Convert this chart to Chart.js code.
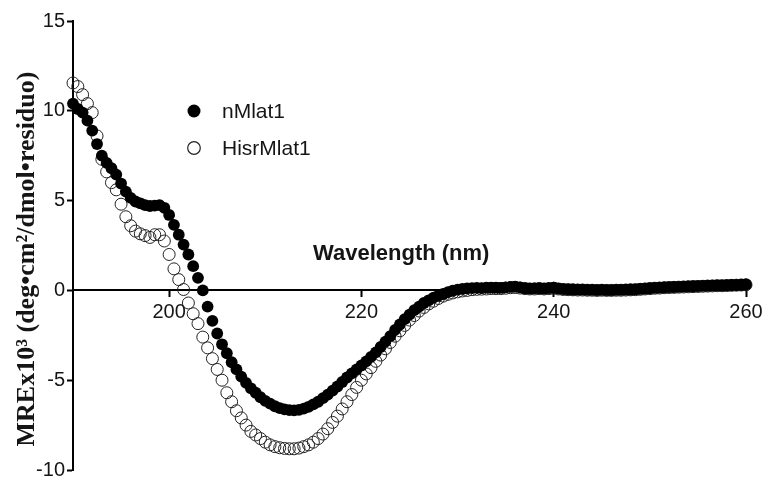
<!DOCTYPE html>
<html>
<head>
<meta charset="utf-8">
<script src="https://cdn.jsdelivr.net/npm/chart.js@4.4.0/dist/chart.umd.min.js"></script>
<style>
  html, body { margin: 0; padding: 0; background: #fff; }
  #wrap { width: 766px; height: 477px; }
</style>
</head>
<body>
<div id="wrap"><canvas id="cdChart" width="766" height="477"></canvas></div>
<script>
// wavelength (nm)
const wavelengths = [
  190, 190.5, 191, 191.5, 192, 192.5, 193, 193.5, 194, 194.5,
  195, 195.5, 196, 196.5, 197, 197.5, 198, 198.5, 199, 199.5,
  200, 200.5, 201, 201.5, 202, 202.5, 203, 203.5, 204, 204.5,
  205, 205.5, 206, 206.5, 207, 207.5, 208, 208.5, 209, 209.5,
  210, 210.5, 211, 211.5, 212, 212.5, 213, 213.5, 214, 214.5,
  215, 215.5, 216, 216.5, 217, 217.5, 218, 218.5, 219, 219.5,
  220, 220.5, 221, 221.5, 222, 222.5, 223, 223.5, 224, 224.5,
  225, 225.5, 226, 226.5, 227, 227.5, 228, 228.5, 229, 229.5,
  230, 230.5, 231, 231.5, 232, 232.5, 233, 233.5, 234, 234.5,
  235, 235.5, 236, 236.5, 237, 237.5, 238, 238.5, 239, 239.5,
  240, 240.5, 241, 241.5, 242, 242.5, 243, 243.5, 244, 244.5,
  245, 245.5, 246, 246.5, 247, 247.5, 248, 248.5, 249, 249.5,
  250, 250.5, 251, 251.5, 252, 252.5, 253, 253.5, 254, 254.5,
  255, 255.5, 256, 256.5, 257, 257.5, 258, 258.5, 259, 259.5,
  260
];

// MRE x10^3
const nMlat1 = [
  10.4, 10.1, 9.9, 9.45, 8.9, 8.15, 7.5, 7.1, 6.8, 6.45,
  5.95, 5.5, 5.15, 4.95, 4.85, 4.75, 4.7, 4.72, 4.75, 4.6,
  4.2, 3.65, 3.1, 2.55, 2.0, 1.35, 0.7, 0.0, -0.9, -1.7,
  -2.4, -3.0, -3.5, -4.0, -4.4, -4.8, -5.15, -5.45, -5.7, -5.95,
  -6.15, -6.3, -6.45, -6.55, -6.62, -6.67, -6.68, -6.65, -6.58, -6.48,
  -6.35, -6.2, -6.0, -5.8, -5.58, -5.35, -5.1, -4.85, -4.62, -4.4,
  -4.18, -3.95, -3.7, -3.45, -3.15, -2.85, -2.55, -2.2, -1.9, -1.6,
  -1.35, -1.1, -0.9, -0.7, -0.55, -0.4, -0.3, -0.2, -0.1, -0.02,
  0.04, 0.08, 0.11, 0.13, 0.14, 0.13, 0.15, 0.16, 0.15, 0.14,
  0.17, 0.2, 0.21, 0.17, 0.12, 0.1, 0.11, 0.12, 0.1, 0.13,
  0.15, 0.1, 0.07, 0.06, 0.05, 0.04, 0.04, 0.03, 0.03, 0.02,
  0.03, 0.02, 0.02, 0.03, 0.03, 0.04, 0.05, 0.06, 0.08, 0.1,
  0.12, 0.14, 0.15, 0.17, 0.18, 0.19, 0.2, 0.21, 0.22, 0.23,
  0.24, 0.25, 0.26, 0.27, 0.28, 0.28, 0.29, 0.3, 0.31, 0.32,
  0.33
];

const HisrMlat1 = [
  11.55, 11.35, 10.9, 10.4, 9.9, 8.6, 7.3, 6.6, 6.0, 5.6,
  4.8, 4.1, 3.6, 3.3, 3.15, 3.05, 2.95, 3.1, 3.1, 2.75,
  2.0, 1.2, 0.6, 0.05, -0.7, -1.3, -1.85, -2.6, -3.2, -3.8,
  -4.4, -5.0, -5.7, -6.2, -6.7, -7.1, -7.5, -7.85, -8.05, -8.25,
  -8.45, -8.6, -8.7, -8.76, -8.8, -8.82, -8.82, -8.78, -8.7, -8.6,
  -8.45, -8.25, -8.0, -7.7, -7.35, -7.0, -6.6, -6.2, -5.8, -5.4,
  -5.0, -4.65, -4.3, -3.95, -3.6, -3.25, -2.9, -2.55, -2.25, -1.95,
  -1.65, -1.4, -1.15, -0.95, -0.75, -0.6, -0.45, -0.32, -0.22, -0.14,
  -0.08, -0.03, 0.0, 0.04, 0.06, 0.07, 0.08, 0.1, 0.1, 0.1,
  0.12, 0.15, 0.16, 0.13, 0.1, 0.08, 0.08, 0.1, 0.08, 0.1,
  0.12, 0.08, 0.05, 0.04, 0.03, 0.02, 0.02, 0.01, 0.01, 0.0,
  0.01, 0.0, 0.0, 0.01, 0.01, 0.02, 0.03, 0.04, 0.06, 0.08,
  0.1, 0.12, 0.13, 0.15, 0.16, 0.17, 0.18, 0.19, 0.2, 0.21,
  0.22, 0.23, 0.24, 0.25, 0.26, 0.26, 0.27, 0.28, 0.29, 0.3,
  0.31
];

const xTicks = [200, 220, 240, 260];
const yTicks = [-10, -5, 0, 5, 10, 15];

const TXT = '#151515';
const tickFont = { family: '"Liberation Sans", Arial, sans-serif', size: 20 };

function toPoints(ys) {
  return wavelengths.map((x, i) => ({ x: x, y: ys[i] }));
}

// titles + legend drawn inside the plot, like the original figure
const annotations = {
  id: 'annotations',
  afterDraw(chart) {
    const ctx = chart.ctx;
    ctx.save();
    ctx.fillStyle = TXT;

    // y title (rotated)
    ctx.save();
    ctx.translate(34, 259);
    ctx.rotate(-Math.PI / 2);
    ctx.font = 'bold 26px "Liberation Serif", "Times New Roman", serif';
    ctx.textAlign = 'center';
    ctx.textBaseline = 'alphabetic';
    ctx.fillText('MREx10\u00B3 (deg\u2022cm\u00B2/dmol\u2022residuo)', 0, 0);
    ctx.restore();

    // x title
    ctx.font = 'bold 22px "Liberation Sans", Arial, sans-serif';
    ctx.textAlign = 'left';
    ctx.textBaseline = 'alphabetic';
    ctx.fillText('Wavelength (nm)', 313, 260);

    // legend
    ctx.font = '21px "Liberation Sans", Arial, sans-serif';
    ctx.fillText('nMlat1', 222, 118);
    ctx.fillText('HisrMlat1', 222, 155);

    ctx.beginPath();
    ctx.arc(194, 111, 6.5, 0, Math.PI * 2);
    ctx.fillStyle = '#000';
    ctx.fill();

    ctx.beginPath();
    ctx.arc(194, 148, 6.3, 0, Math.PI * 2);
    ctx.strokeStyle = '#222';
    ctx.lineWidth = 1.2;
    ctx.stroke();
    ctx.restore();
  }
};

new Chart(document.getElementById('cdChart').getContext('2d'), {
  type: 'scatter',
  data: {
    datasets: [
      {
        label: 'nMlat1',
        data: toPoints(nMlat1),
        pointRadius: 5.9,
        pointBackgroundColor: '#000',
        pointBorderColor: '#000',
        pointBorderWidth: 0,
        clip: false
      },
      {
        label: 'HisrMlat1',
        data: toPoints(HisrMlat1),
        pointRadius: 6,
        pointBackgroundColor: 'rgba(0,0,0,0)',
        pointBorderColor: '#222',
        pointBorderWidth: 1,
        clip: false
      }
    ]
  },
  options: {
    responsive: false,
    animation: false,
    layout: { padding: { top: 21, bottom: 7, left: 0, right: 20 } },
    plugins: {
      legend: { display: false },
      tooltip: { enabled: false }
    },
    scales: {
      x: {
        type: 'linear',
        min: 190, max: 260,
        position: { y: 0 },
        afterBuildTicks: s => { s.ticks = xTicks.map(v => ({ value: v })); },
        afterFit: s => { s.height = 0; s.paddingLeft = 0; s.paddingRight = 0; },
        grid: { drawOnChartArea: false, drawTicks: true, tickLength: 6, tickWidth: 2, tickColor: '#000' },
        border: { color: '#000', width: 2 },
        ticks: { font: tickFont, color: TXT, padding: 4, maxRotation: 0, autoSkip: false }
      },
      y: {
        min: -10, max: 15,
        afterBuildTicks: s => { s.ticks = yTicks.map(v => ({ value: v })); },
        afterFit: s => { s.width = 73; s.paddingTop = 0; s.paddingBottom = 0; },
        grid: { drawOnChartArea: false, drawTicks: true, tickLength: 6, tickWidth: 2, tickColor: '#000' },
        border: { color: '#000', width: 2 },
        ticks: { font: tickFont, color: TXT, padding: 2, autoSkip: false }
      }
    }
  },
  plugins: [annotations]
});
</script>
</body>
</html>
